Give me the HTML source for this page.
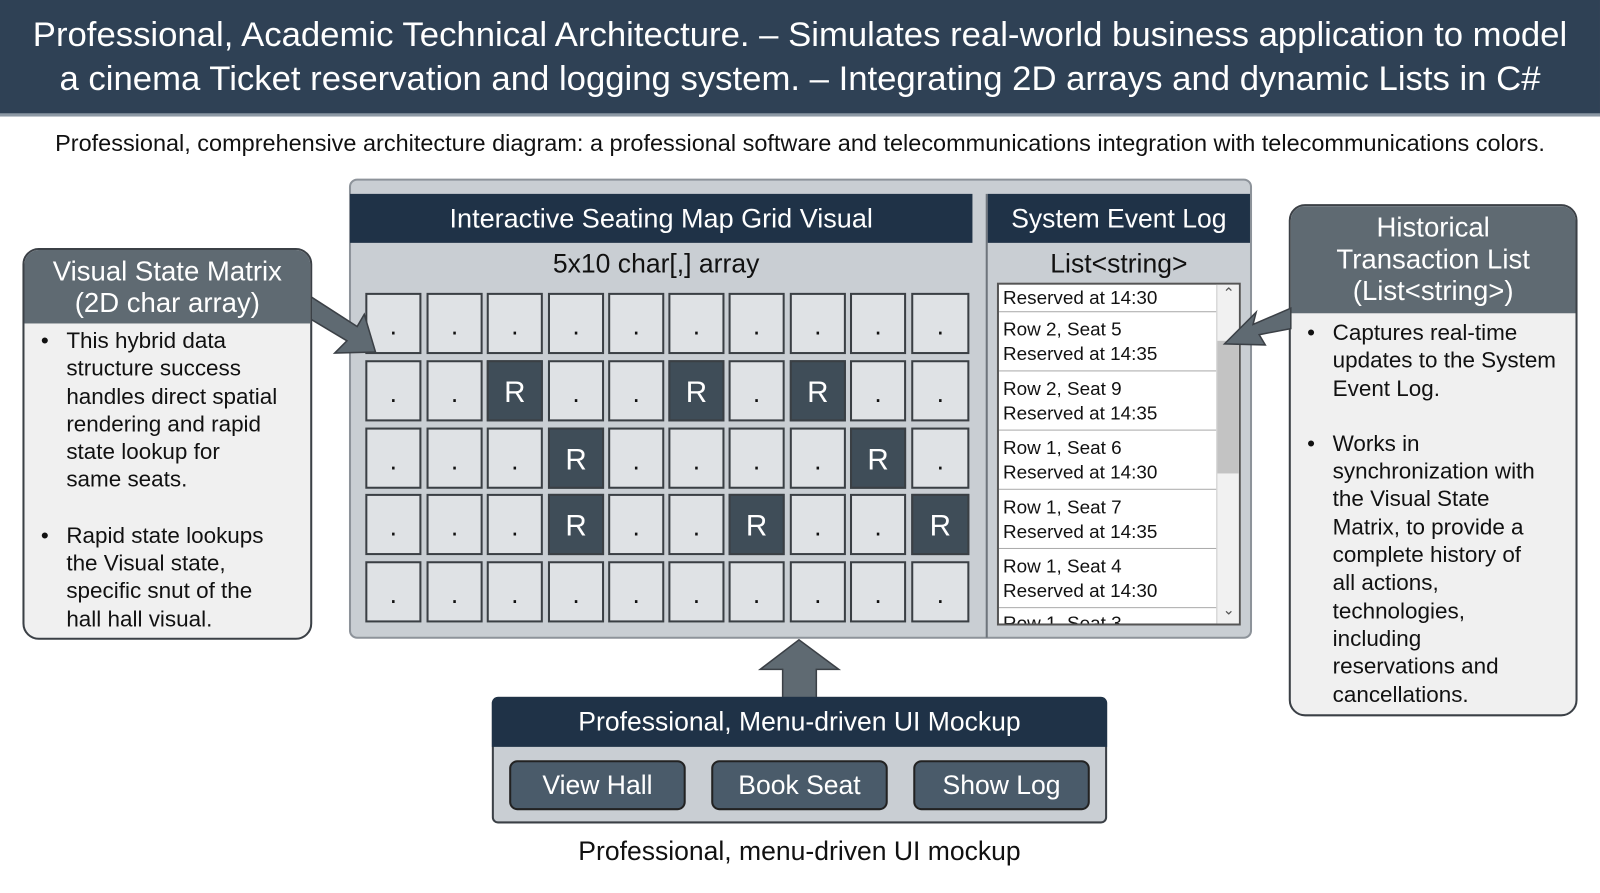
<!DOCTYPE html>
<html><head><meta charset="utf-8"><style>
*{box-sizing:border-box;margin:0;padding:0}
body{width:1600px;height:893px;background:#fff;position:relative;overflow:hidden;font-family:"Liberation Sans",sans-serif;color:#111}
#w{position:absolute;left:0;top:0;width:1568px;height:875px;transform:scale(1.0204);transform-origin:0 0}
.a{position:absolute}
.hdr{left:0;top:0;width:1568px;height:114px;background:#2f4155;border-bottom:3px solid #8c98a4;color:#fff;font-size:34px;text-align:center;line-height:43px;padding-top:13px;white-space:nowrap}
.sub{left:0;top:127px;width:1568px;text-align:center;font-size:23px;white-space:nowrap}
.panel{left:342px;top:175px;width:885px;height:451px;background:#c9ced3;border:2px solid #8d939a;border-radius:8px}
.navy{background:#1f3247;color:#fff;text-align:center}
.c{position:absolute;width:55px;height:60px;background:#dfe2e5;border:2px solid #3a3f44;text-align:center;line-height:60px;font-size:26px}
.c.d{background:#3f4d58;color:#fff;font-size:29px}
.list{left:977px;top:277px;width:239px;height:336px;background:#fff;border:2px solid #555;overflow:hidden}
.it{position:absolute;left:0;width:213px;border-bottom:1.5px solid #aaa;font-size:18.5px;line-height:24px;padding-left:4px}
.call{border:2px solid #3b4046;border-radius:16px;background:#f0f0f0;overflow:hidden}
.ch{background:#5f6a72;color:#fff;text-align:center;font-size:27px;line-height:31px;white-space:nowrap}
ul{list-style:none;font-size:22px;line-height:27.3px;white-space:nowrap}
li{position:relative;padding-left:41px}
li:before{content:"•";position:absolute;left:16px}
.btn{position:absolute;top:745px;width:173px;height:49px;background:#4a5b6a;border:2px solid #222;border-radius:8px;color:#fff;font-size:26px;text-align:center;line-height:45px}
</style></head><body><div id="w">
<div class="a hdr">Professional, Academic Technical Architecture. – Simulates real-world business application to model<br>a cinema Ticket reservation and logging system. – Integrating 2D arrays and dynamic Lists in C#</div>
<div class="a sub">Professional, comprehensive architecture diagram: a professional software and telecommunications integration with telecommunications colors.</div>

<div class="a panel"></div>
<div class="a navy" style="left:343px;top:190px;width:610px;height:48px;font-size:26.5px;line-height:48px">Interactive Seating Map Grid Visual</div>
<div class="a" style="left:343px;top:243px;width:600px;text-align:center;font-size:26px">5x10 char[,] array</div>
<div class="a" style="left:966px;top:190px;width:2px;height:435px;background:#6e757c"></div>
<div class="a navy" style="left:968px;top:190px;width:257px;height:48px;font-size:26px;line-height:48px">System Event Log</div>
<div class="a" style="left:968px;top:243px;width:257px;text-align:center;font-size:26px">List&lt;string&gt;</div>

<div class="c" style="left:358px;top:287px">.</div><div class="c" style="left:418px;top:287px">.</div><div class="c" style="left:477px;top:287px">.</div><div class="c" style="left:537px;top:287px">.</div><div class="c" style="left:596px;top:287px">.</div><div class="c" style="left:655px;top:287px">.</div><div class="c" style="left:714px;top:287px">.</div><div class="c" style="left:774px;top:287px">.</div><div class="c" style="left:833px;top:287px">.</div><div class="c" style="left:893px;top:287px;width:57px">.</div>
<div class="c" style="left:358px;top:353px">.</div><div class="c" style="left:418px;top:353px">.</div><div class="c d" style="left:477px;top:353px">R</div><div class="c" style="left:537px;top:353px">.</div><div class="c" style="left:596px;top:353px">.</div><div class="c d" style="left:655px;top:353px">R</div><div class="c" style="left:714px;top:353px">.</div><div class="c d" style="left:774px;top:353px">R</div><div class="c" style="left:833px;top:353px">.</div><div class="c" style="left:893px;top:353px;width:57px">.</div>
<div class="c" style="left:358px;top:419px">.</div><div class="c" style="left:418px;top:419px">.</div><div class="c" style="left:477px;top:419px">.</div><div class="c d" style="left:537px;top:419px">R</div><div class="c" style="left:596px;top:419px">.</div><div class="c" style="left:655px;top:419px">.</div><div class="c" style="left:714px;top:419px">.</div><div class="c" style="left:774px;top:419px">.</div><div class="c d" style="left:833px;top:419px">R</div><div class="c" style="left:893px;top:419px;width:57px">.</div>
<div class="c" style="left:358px;top:484px">.</div><div class="c" style="left:418px;top:484px">.</div><div class="c" style="left:477px;top:484px">.</div><div class="c d" style="left:537px;top:484px">R</div><div class="c" style="left:596px;top:484px">.</div><div class="c" style="left:655px;top:484px">.</div><div class="c d" style="left:714px;top:484px">R</div><div class="c" style="left:774px;top:484px">.</div><div class="c" style="left:833px;top:484px">.</div><div class="c d" style="left:893px;top:484px;width:57px">R</div>
<div class="c" style="left:358px;top:550px">.</div><div class="c" style="left:418px;top:550px">.</div><div class="c" style="left:477px;top:550px">.</div><div class="c" style="left:537px;top:550px">.</div><div class="c" style="left:596px;top:550px">.</div><div class="c" style="left:655px;top:550px">.</div><div class="c" style="left:714px;top:550px">.</div><div class="c" style="left:774px;top:550px">.</div><div class="c" style="left:833px;top:550px">.</div><div class="c" style="left:893px;top:550px;width:57px">.</div>

<div class="a list">
<div class="it" style="top:0;height:27px;line-height:25px">Reserved at 14:30</div>
<div class="it" style="top:27px;height:58px;padding-top:5px">Row 2, Seat 5<br>Reserved at 14:35</div>
<div class="it" style="top:85px;height:58px;padding-top:5px">Row 2, Seat 9<br>Reserved at 14:35</div>
<div class="it" style="top:143px;height:58px;padding-top:5px">Row 1, Seat 6<br>Reserved at 14:30</div>
<div class="it" style="top:201px;height:58px;padding-top:5px">Row 1, Seat 7<br>Reserved at 14:35</div>
<div class="it" style="top:259px;height:58px;padding-top:5px">Row 1, Seat 4<br>Reserved at 14:30</div>
<div class="it" style="top:317px;height:58px;padding-top:3px">Row 1, Seat 3</div>
<div class="a" style="left:213px;top:0;width:24px;height:334px;background:#f1f1f1;border-left:1px solid #ccc"></div>
<div class="a" style="left:214px;top:55px;width:23px;height:130px;background:#c3c3c3"></div>
<div class="a" style="left:213px;top:0;width:24px;text-align:center;font-size:14px;color:#555">&#8963;</div>
<div class="a" style="left:213px;top:310px;width:24px;text-align:center;font-size:14px;color:#555">&#8964;</div>
</div>

<div class="a call" style="left:22px;top:243px;width:284px;height:384px">
<div class="ch" style="height:72px;padding-top:6px">Visual State Matrix<br>(2D char array)</div>
<ul style="padding-top:3px">
<li>This hybrid data<br>structure success<br>handles direct spatial<br>rendering and rapid<br>state lookup for<br>same seats.</li>
<li style="margin-top:27px">Rapid state lookups<br>the Visual state,<br>specific snut of the<br>hall hall visual.</li>
</ul></div>

<div class="a call" style="left:1263px;top:200px;width:283px;height:502px">
<div class="ch" style="height:105px;padding-top:6px">Historical<br>Transaction List<br>(List&lt;string&gt;)</div>
<ul style="padding-top:5px">
<li>Captures real-time<br>updates to the System<br>Event Log.</li>
<li style="margin-top:27px">Works in<br>synchronization with<br>the Visual State<br>Matrix, to provide a<br>complete history of<br>all actions,<br>technologies,<br>including<br>reservations and<br>cancellations.</li>
</ul></div>

<svg class="a" style="left:0;top:0" width="1568" height="875">
<g fill="#5f6a72" stroke="#3b4046" stroke-width="1.5">
<polygon points="305,291 350,320 357,308 368,345 328,346 340,334 305,313"/>
<polygon points="1265,302 1228,318 1231,306 1200,337 1240,338 1234,328 1265,322"/>
<polygon points="767,684 767,656 745,656 783,627 822,656 800,656 800,684"/>
</g></svg>

<div class="a" style="left:482px;top:683px;width:603px;height:124px;background:#c9ced3;border:2px solid #3b4046;border-radius:6px"></div>
<div class="a navy" style="left:482px;top:683px;width:603px;height:49px;font-size:26px;line-height:49px;border-radius:6px 6px 0 0">Professional, Menu-driven UI Mockup</div>
<div class="btn" style="left:499px">View Hall</div>
<div class="btn" style="left:697px">Book Seat</div>
<div class="btn" style="left:895px">Show Log</div>
<div class="a" style="left:482px;top:819px;width:603px;text-align:center;font-size:26px">Professional, menu-driven UI mockup</div>
</div></body></html>
